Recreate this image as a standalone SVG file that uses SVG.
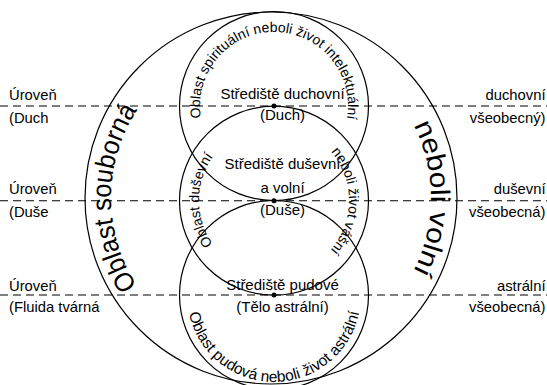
<svg xmlns="http://www.w3.org/2000/svg" width="547" height="385" viewBox="0 0 547 385">
<style>
.c{fill:none;stroke:#000;stroke-width:1.2}
.d{stroke:#000;stroke-width:1.1;stroke-dasharray:8 5;fill:none}
text{font-family:"Liberation Sans",Arial,sans-serif;fill:#000}
.s{font-size:14.8px}
.m{font-size:15px;text-anchor:middle}
.r{font-size:14.8px;text-anchor:end}
.big{font-size:27px}
</style>
<defs>
<path id="pBig" d="M271,358 A160,160 0 0 1 271,38 A160,160 0 0 1 271,358"/>
<path id="pTop" d="M274,180 A74,74 0 0 1 274,32 A74,74 0 0 1 274,180"/>
<path id="pMid" d="M274,275.5 A75,75 0 0 1 274,125.5 A75,75 0 0 1 274,275.5"/>
<path id="pBot" d="M274,208 A87,87 0 0 0 274,382 A87,87 0 0 0 274,208"/>
</defs>
<rect width="547" height="385" fill="#fff"/>
<g id="connectors">
<line class="d" x1="0" y1="106" x2="547" y2="106"/>
<line class="d" x1="0" y1="200.7" x2="547" y2="200.7"/>
<line class="d" x1="0" y1="295" x2="547" y2="295"/>
</g>
<g id="outer">
<circle class="c" cx="271" cy="198" r="186"/>
<text class="big"><textPath href="#pBig" startOffset="251.3" text-anchor="middle" textLength="186" lengthAdjust="spacingAndGlyphs">Oblast souborná</textPath></text>
<text class="big"><textPath href="#pBig" startOffset="754" text-anchor="middle" textLength="152" lengthAdjust="spacingAndGlyphs">neboli volní</textPath></text>
</g>
<g id="spirit">
<circle class="c" cx="274" cy="106" r="94.5"/>
<text font-size="14"><textPath href="#pTop" startOffset="232.5" text-anchor="middle">Oblast spirituální neboli život intelektuální</textPath></text>
<circle cx="274" cy="106" r="2.5"/>
<text class="m" x="282.5" y="99">Střediště duchovní</text>
<text class="m" x="282.5" y="120">(Duch)</text>
</g>
<g id="soul">
<circle class="c" cx="274" cy="200.7" r="94.5"/>
<text font-size="14"><textPath href="#pMid" startOffset="117.8" text-anchor="middle">Oblast duševní</textPath></text>
<text font-size="14"><textPath href="#pMid" startOffset="353.4" text-anchor="middle">neboli život vášní</textPath></text>
<circle cx="274" cy="200.7" r="2.5"/>
<text class="m" x="282.5" y="169">Střediště duševní</text>
<text class="m" x="282.5" y="193">a volní</text>
<text class="m" x="282.5" y="215">(Duše)</text>
</g>
<g id="instinct">
<circle class="c" cx="274" cy="295" r="94.5"/>
<text font-size="15.5"><textPath href="#pBot" startOffset="273.3" text-anchor="middle">Oblast pudová neboli život astrální</textPath></text>
<circle cx="274" cy="295" r="2.5"/>
<text class="m" x="282.5" y="290">Střediště pudové</text>
<text class="m" x="282.5" y="311.5">(Tělo astrální)</text>
</g>
<g id="left-labels">
<text class="s" x="9" y="99.5">Úroveň</text>
<text class="s" x="9" y="122.7">(Duch</text>
<text class="s" x="9" y="194">Úroveň</text>
<text class="s" x="9" y="217">(Duše</text>
<text class="s" x="9" y="291.3">Úroveň</text>
<text class="s" x="9" y="312">(Fluida tvárná</text>
</g>
<g id="right-labels">
<text class="r" x="545.5" y="99.5">duchovní</text>
<text class="r" x="545.5" y="122.7">všeobecný)</text>
<text class="r" x="545.5" y="194">duševní</text>
<text class="r" x="545.5" y="217">všeobecná)</text>
<text class="r" x="545.5" y="291.3">astrální</text>
<text class="r" x="545.5" y="312">všeobecná)</text>
</g>
</svg>
